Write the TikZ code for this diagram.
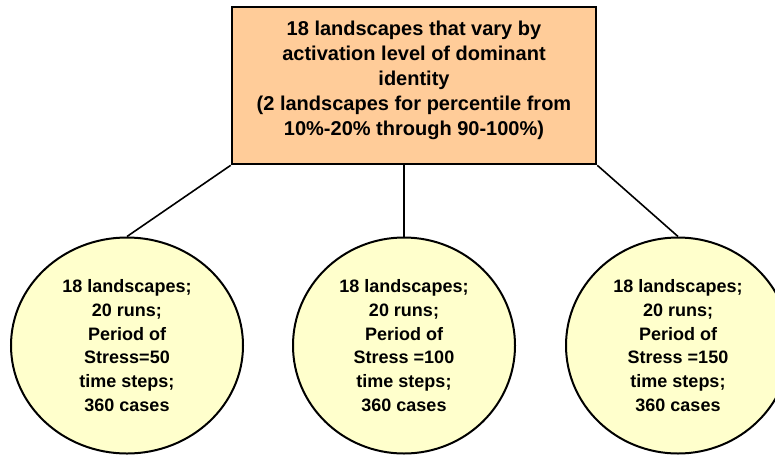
\documentclass[tikz,border=0pt]{standalone}
\usepackage{fontspec}
\setmainfont{Liberation Sans}
\usetikzlibrary{shapes.geometric}
\definecolor{boxfill}{HTML}{FFCC99}
\definecolor{circfill}{HTML}{FFFFCC}
\tikzset{
  topbox/.style={draw=black, line width=2.6pt, fill=boxfill, minimum width=364pt, minimum height=157pt, inner sep=0pt},
  toptext/.style={align=center, font=\fontsize{20}{25}\selectfont\bfseries, inner sep=0pt},
  casecirc/.style={ellipse, draw=black, line width=2pt, fill=circfill, inner sep=0pt, align=center,
     font=\fontsize{18}{23.8}\selectfont\bfseries},
  conn/.style={draw=black, line width=1.6pt}
}
\begin{document}
\begin{tikzpicture}[x=1pt,y=-1pt]
\useasboundingbox (0,0) rectangle (775,455);
\node[topbox] (top) at (414,85.5) {};
\node[toptext] (toplabel) at (414,80) {18 landscapes that vary by\\activation level of dominant\\identity\\(2 landscapes for percentile from\\10\%-20\% through 90-100\%)};
\node[casecirc, minimum width=232pt, minimum height=216pt] (c1) at (127,345.5) {18 landscapes;\\20 runs;\\Period of\\Stress=50\\time steps;\\360 cases};
\node[casecirc, minimum width=222pt, minimum height=216pt] (c2) at (404,345.5) {18 landscapes;\\20 runs;\\Period of\\Stress =100\\time steps;\\360 cases};
\node[casecirc, minimum width=224pt, minimum height=216pt] (c3) at (678,345.5) {18 landscapes;\\20 runs;\\Period of\\Stress =150\\time steps;\\360 cases};
\draw[conn] (top.south west) -- (c1.north);
\draw[conn] (c2.north |- top.south) -- (c2.north);
\draw[conn] (top.south east) -- (c3.north);
\end{tikzpicture}
\end{document}
